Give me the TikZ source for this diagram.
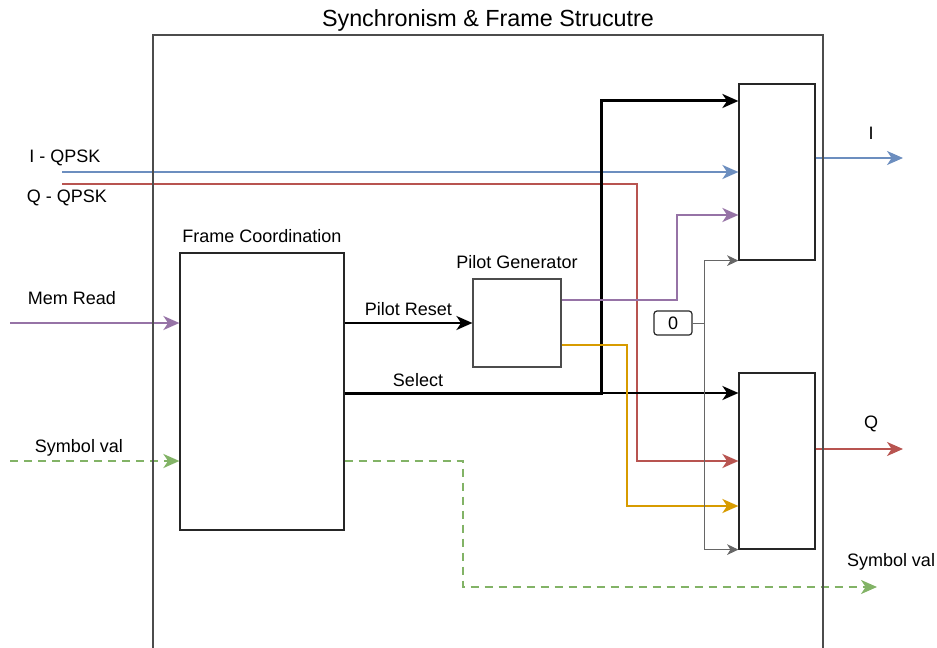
\documentclass[tikz,border=0pt]{standalone}
\usepackage{fontspec}
\setmainfont{Liberation Sans}
\usetikzlibrary{arrows.meta,positioning}
\newdimen\px \px=0.75pt
\definecolor{dioblue}{HTML}{6C8EBF}
\definecolor{diored}{HTML}{B85450}
\definecolor{diopurple}{HTML}{9673A6}
\definecolor{diogreen}{HTML}{82B366}
\definecolor{dioorange}{HTML}{D79B00}
\definecolor{diogray}{HTML}{666666}
\begin{document}
\begin{tikzpicture}[x=1\px,y=-1\px,
    block/.style={draw=black!85, line width=1.2\px, inner sep=0pt},
    lbl/.style={font=\fontsize{13.5}{16}\selectfont, inner sep=0pt},
    sig/.style={line width=2.2\px, -{Stealth[length=12pt,width=10.5pt,inset=3.5pt]}},
    graysig/.style={diogray, line width=1\px, -{Stealth[length=8.5pt,width=8pt,inset=2.5pt]}},
    dashsig/.style={dash pattern=on 8\px off 6\px}]
    \useasboundingbox (0,0) rectangle (937,648);

    % blocks
    \node[block, minimum width=164\px, minimum height=277\px] (frame) at (262,391.5) {};
    \node[lbl, above=9\px of frame] (framelbl) {Frame Coordination};
    \node[block, draw=black!70, minimum width=88\px, minimum height=88\px] (pilot) at (517,323) {};
    \node[lbl, above=9\px of pilot] (pilotlbl) {Pilot Generator};
    \node[block, minimum width=76\px, minimum height=176\px] (muxI) at (777,172) {};
    \node[block, minimum width=76\px, minimum height=176\px] (muxQ) at (777,461) {};
    \node[block, lbl, rounded corners=3\px, minimum width=38\px, minimum height=24\px] (zero) at (673,323) {0};

    % free ends
    \coordinate (iin) at (62,172);
    \coordinate (qin) at (62,184);
    \coordinate (memin) at (10,323);
    \coordinate (symin) at (10,461);
    \coordinate (iout) at (903,158);
    \coordinate (qout) at (903,449);
    \coordinate (symout) at (877,587);
    \coordinate (zerotap) at (704,323);

    % inputs
    \node[lbl] (ilbl) at (65,158) {I - QPSK};
    \node[lbl] (qlbl) at (67,198) {Q - QPSK};
    \node[lbl] (memlbl) at (72,298) {Mem Read};
    \node[lbl] (symlbl) at (79,448) {Symbol val};
    \draw[sig, dioblue] (iin) -- (muxI.west);
    \draw[sig, diored] (qin) -| (637,461) -- (muxQ.west);
    \draw[sig, diopurple] (memin) -- (memin -| frame.west);
    \draw[sig, diogreen, dashsig] (symin) -- (symin -| frame.west);

    % frame coordination outputs
    \draw[sig, diogreen, dashsig] (frame.east |- symin) -| (463,587) -- (symout);
    \draw[sig] (frame.east |- pilot) -- (pilot.west)
        node[lbl, midway, above=6\px] (resetlbl) {Pilot Reset};
    \draw[sig, line width=3\px] (frame.east |- 0,393) -| (601,101) -- (muxI.west |- 0,101);
    \draw[sig] (553,393) -- (muxQ.west |- 0,393);
    \node[lbl] (sellbl) at (418,380) {Select};

    % pilot generator outputs
    \draw[sig, diopurple] (pilot.east |- 0,300) -| (677,215) -- (muxI.west |- 0,215);
    \draw[sig, dioorange] (pilot.east |- 0,345) -| (627,506) -- (muxQ.west |- 0,506);

    % constant zero
    \draw[graysig] (zero.east) -- (zerotap) |- (muxI.south west);
    \draw[graysig] (zero.east) -- (zerotap) |- (muxQ.south west);

    % outputs
    \draw[sig, dioblue] (muxI.east |- iout) -- (iout);
    \draw[sig, diored] (muxQ.east |- qout) -- (qout);
    \node[lbl] (ioutlbl) at (871,133) {I};
    \node[lbl] (qoutlbl) at (871,424) {Q};
    \node[lbl] (symoutlbl) at (891,562) {Symbol val};

    % outer frame
    \draw[draw=black!70, line width=1.2\px] (153,650) -- (153,35) -- (823,35) -- (823,650);
    \node[font=\fontsize{17.5}{20}\selectfont, inner sep=0pt] (title) at (488,20) {Synchronism \& Frame Strucutre};
\end{tikzpicture}
\end{document}
